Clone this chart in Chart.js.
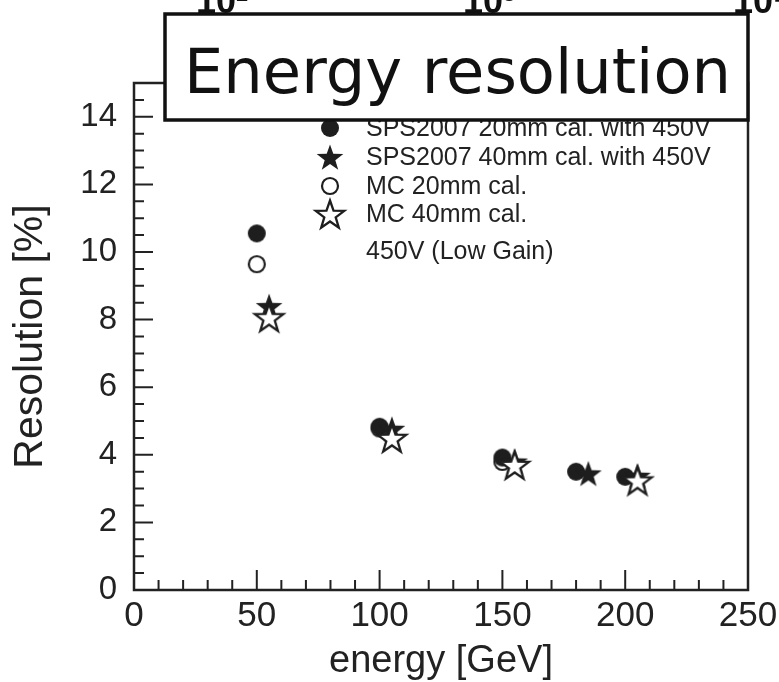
<!DOCTYPE html>
<html>
<head>
<meta charset="utf-8">
<script src="https://cdn.jsdelivr.net/npm/chart.js@4"></script>
<style>
  html, body { margin: 0; padding: 0; background: #fff; overflow: hidden; }
  #wrap { position: relative; width: 779px; height: 682px; }
</style>
</head>
<body>
<div id="wrap"><canvas id="resChart" width="779" height="682"></canvas></div>
<script>
// -------------------------------
// DATA
// -------------------------------
const energy20 = [50, 100, 150, 180, 200];
const energy40 = [55, 105, 155, 185, 205];
const sps20 = [10.55, 4.83, 3.92, 3.5, 3.35];
const sps40 = [8.4, 4.77, 3.8, 3.45, 3.38];

const energyMc20 = [50, 100, 150];
const energyMc40 = [55, 105, 155, 205];
const mc20 = [9.64, 4.78, 3.79];
const mc40 = [8.07, 4.5, 3.7, 3.24];

const legendLabels = [
  "SPS2007 20mm cal. with 450V",
  "SPS2007 40mm cal. with 450V",
  "MC 20mm cal.",
  "MC 40mm cal.",
];
const legendNote = "450V (Low Gain)";
const titleText = "Energy resolution";
const topAxisLabels = ["10\u00b2", "10\u00b3", "10\u2074"];

const ink = "#1e1e1e";

// -------------------------------
// MARKERS
// -------------------------------
function circleMarker(r, filled) {
  const c = document.createElement("canvas");
  const s = Math.ceil(2 * r + 6);
  c.width = s; c.height = s;
  const g = c.getContext("2d");
  g.beginPath();
  g.arc(s / 2, s / 2, r, 0, Math.PI * 2);
  if (filled) {
    g.fillStyle = ink;
    g.fill();
  } else {
    g.fillStyle = "#fff";
    g.fill();
    g.lineWidth = 2.2;
    g.strokeStyle = ink;
    g.stroke();
  }
  return c;
}

function starMarker(R, filled) {
  const c = document.createElement("canvas");
  const s = Math.ceil(2 * R + 6);
  c.width = s; c.height = s;
  const g = c.getContext("2d");
  const cx = s / 2, cy = s / 2 + R * 0.1;
  const r = R * 0.4;
  g.beginPath();
  for (let i = 0; i < 10; i++) {
    const rad = i % 2 === 0 ? R : r;
    const a = -Math.PI / 2 + (i * Math.PI) / 5;
    const px = cx + rad * Math.cos(a);
    const py = cy + rad * Math.sin(a);
    if (i === 0) g.moveTo(px, py); else g.lineTo(px, py);
  }
  g.closePath();
  if (filled) {
    g.fillStyle = ink;
    g.fill();
  } else {
    g.fillStyle = "#fff";
    g.fill();
    g.lineWidth = 2.3;
    g.strokeStyle = ink;
    g.stroke();
  }
  return c;
}

const markers = [
  circleMarker(9, true),
  starMarker(14, true),
  circleMarker(8, false),
  starMarker(15, false),
];

function toPoints(xs, ys) {
  return xs.map((x, i) => ({ x: x, y: ys[i] }));
}

// -------------------------------
// PLUGINS
// -------------------------------
// frame + inward ticks
const frameTicks = {
  id: "frameTicks",
  beforeDatasetsDraw(chart) {
    const { ctx, chartArea: a } = chart;
    const xs = chart.scales.x, ys = chart.scales.y;
    ctx.save();
    ctx.strokeStyle = "#222";
    ctx.lineWidth = 2.5;
    ctx.strokeRect(a.left, a.top, a.right - a.left, a.bottom - a.top);
    ctx.lineWidth = 2;
    ctx.beginPath();
    for (let v = 10; v < 250; v += 10) {
      const px = xs.getPixelForValue(v);
      const len = v % 50 === 0 ? 20 : 10;
      ctx.moveTo(px, a.bottom);
      ctx.lineTo(px, a.bottom - len);
    }
    for (let v = 0.5; v < 15; v += 0.5) {
      const py = ys.getPixelForValue(v);
      const len = v % 2 === 0 ? 19 : 10;
      ctx.moveTo(a.left, py);
      ctx.lineTo(a.left + len, py);
    }
    ctx.stroke();
    ctx.restore();
  },
};

// legend inside the plot + title box + cut-off labels of the plot above
const overlay = {
  id: "overlay",
  afterDraw(chart) {
    const ctx = chart.ctx;
    ctx.save();

    // legend
    const rows = [128, 157, 186, 214];
    ctx.font = "25px 'Liberation Sans', Arial, sans-serif";
    ctx.fillStyle = "#222";
    ctx.textBaseline = "middle";
    ctx.textAlign = "left";
    legendLabels.forEach((lab, i) => {
      const m = markers[i];
      ctx.drawImage(m, 330 - m.width / 2, rows[i] - m.height / 2);
      ctx.fillText(lab, 366, rows[i] + 1);
    });
    ctx.fillText(legendNote, 366, 252);

    // labels from the plot above, mostly cut off
    ctx.font = "bold 36px 'Liberation Sans', Arial, sans-serif";
    ctx.fillStyle = "#111";
    ctx.textBaseline = "alphabetic";
    [196, 463, 733].forEach((x, i) => ctx.fillText(topAxisLabels[i], x, 13));

    // title box
    const bx = 165, by = 14, bw = 583, bh = 106;
    ctx.fillStyle = "#fff";
    ctx.fillRect(bx, by, bw, bh);
    ctx.lineWidth = 3.5;
    ctx.strokeStyle = "#111";
    ctx.strokeRect(bx, by, bw, bh);

    ctx.font = "62px 'DejaVu Sans', sans-serif";
    const w = ctx.measureText(titleText).width;
    ctx.translate(184, 93);
    ctx.scale(547 / w, 1);
    ctx.fillStyle = "#111";
    ctx.fillText(titleText, 0, 0);

    ctx.restore();
  },
};

// -------------------------------
// CHART
// -------------------------------
const fam = "'Liberation Sans', Arial, sans-serif";

new Chart(document.getElementById("resChart").getContext("2d"), {
  type: "scatter",
  data: {
    datasets: [
      { label: legendLabels[0], data: toPoints(energy20, sps20), pointStyle: markers[0], order: 2 },
      { label: legendLabels[1], data: toPoints(energy40, sps40), pointStyle: markers[1], order: 1 },
      { label: legendLabels[2], data: toPoints(energyMc20, mc20), pointStyle: markers[2], order: 3 },
      { label: legendLabels[3], data: toPoints(energyMc40, mc40), pointStyle: markers[3], order: 0 },
    ],
  },
  options: {
    responsive: false,
    animation: false,
    devicePixelRatio: 1,
    layout: { padding: { top: 83, right: 31, left: 0, bottom: 0 } },
    plugins: {
      legend: { display: false },
      tooltip: { enabled: false },
    },
    scales: {
      x: {
        type: "linear",
        min: 0,
        max: 250,
        grid: { display: false, drawTicks: false },
        border: { display: false },
        ticks: { stepSize: 50, includeBounds: false, font: { family: fam, size: 35 }, color: "#222", padding: 5, maxRotation: 0 },
        title: { display: true, text: "energy [GeV]", font: { family: fam, size: 38, lineHeight: 1.1 }, color: "#222", padding: 0 },
        afterFit(s) {
          s.height = 92;
          // the "250" label may run off the edge, like in the original
          s.paddingLeft = 0;
          s.paddingRight = 0;
        },
      },
      y: {
        type: "linear",
        min: 0,
        max: 15,
        grid: { display: false, drawTicks: false },
        border: { display: false },
        ticks: { stepSize: 2, includeBounds: false, font: { family: fam, size: 33 }, color: "#222", padding: 17 },
        title: { display: true, text: "Resolution [%]", font: { family: fam, size: 41, lineHeight: 1.1 }, color: "#222", padding: { top: 8, bottom: 0 } },
        afterFit(s) { s.width = 134; },
      },
    },
  },
  plugins: [frameTicks, overlay],
});
</script>
</body>
</html>
